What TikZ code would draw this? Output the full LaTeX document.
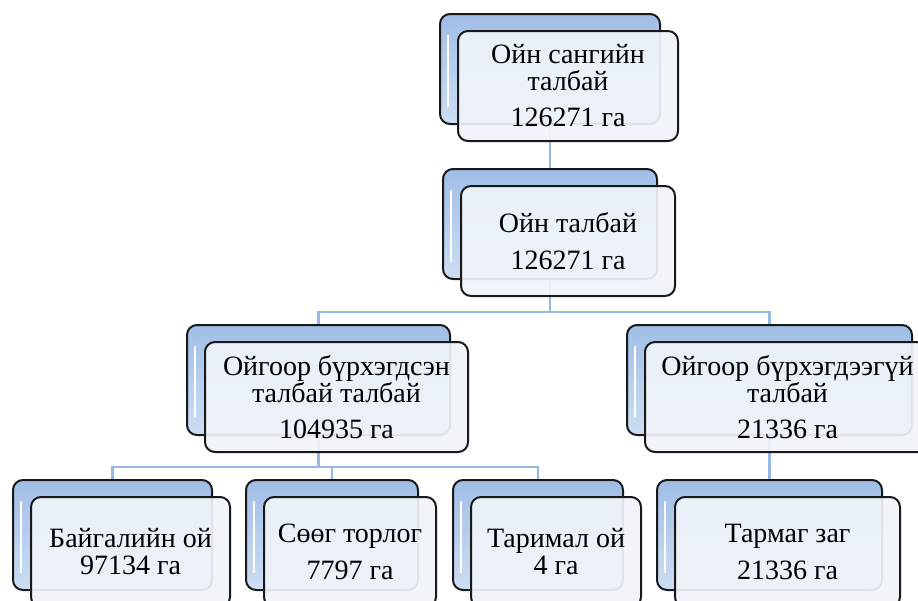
\documentclass[tikz,border=0pt]{standalone}
\usepackage{fontspec}
\setmainfont{Liberation Serif}
\usepackage{tikz}
\usetikzlibrary{shapes, shadows, arrows}
\definecolor{backtop}{RGB}{160,190,230}
\definecolor{backbot}{RGB}{205,222,243}
\definecolor{frontfill}{RGB}{240,244,250}
\definecolor{conn}{RGB}{150,183,226}
\tikzstyle{back}=[draw=black!90, line width=2pt, rounded corners=10pt, top color=backtop, bottom color=backbot, minimum height=110pt,
	path picture={\draw[white, line width=2.4pt, line cap=round, rounded corners=0pt]
		([xshift=8pt,yshift=-22pt]path picture bounding box.north west) -- ([xshift=8pt,yshift=18pt]path picture bounding box.south west);}]
\tikzstyle{front}=[draw=black!90, line width=2pt, rounded corners=10pt, fill=frontfill, fill opacity=0.92, text opacity=1, minimum height=110pt,
	align=center, inner sep=2pt, font=\fontsize{28}{27}\selectfont]
\tikzstyle{link}=[draw=conn, line width=2.6pt]

\begin{document}
\begin{tikzpicture}[x=1pt, y=-1pt]
		\clip (0,0) rectangle (918,600);
		% back boxes
		\node[back, minimum width=220pt] (b1) at (550,69) {};
		\node[back, minimum width=214pt] (b2) at (550,224) {};
		\node[back, minimum width=263pt] (b3l) at (318.5,380) {};
		\node[back, minimum width=285pt] (b3r) at (769.5,380) {};
		\node[back, minimum width=199pt] (b4a) at (112.5,535) {};
		\node[back, minimum width=172pt] (b4b) at (332,535) {};
		\node[back, minimum width=170pt] (b4c) at (538,535) {};
		\node[back, minimum width=225pt] (b4d) at (769.5,535) {};
		%---------------------
		\draw[link] (b1.south) -- (b2.north);
		\draw[link] (b2.south) -- ++(0,32) coordinate (j2);
		\draw[link] (j2) -| (b3l.north);
		\draw[link] (j2) -| (b3r.north);
		\draw[link] (b3l.south) -- ++(0,31) coordinate (j3);
		\draw[link] (j3) -| (b4a.north);
		\draw[link] (j3) -| (b4b.north);
		\draw[link] (j3) -| (b4c.north);
		\draw[link] (b3r.south) -- (b4d.north);
		%---------------------
		\node[front, minimum width=220pt, xshift=18pt, yshift=-17pt] (f1) at (b1) {Ойн сангийн\\талбай\\[9pt]126271 га};
		\node[front, minimum width=214pt, xshift=18pt, yshift=-17pt] (f2) at (b2) {Ойн талбай\\[10pt]126271 га};
		\node[front, minimum width=263pt, xshift=18pt, yshift=-17pt] (f3l) at (b3l) {Ойгоор бүрхэгдсэн\\талбай талбай\\[9pt]104935 га};
		\node[front, minimum width=285pt, xshift=18pt, yshift=-17pt] (f3r) at (b3r) {Ойгоор бүрхэгдээгүй\\талбай\\[9pt]21336 га};
		\node[front, minimum width=199pt, xshift=18pt, yshift=-17pt] (f4a) at (b4a) {Байгалийн ой\\97134 га};
		\node[front, minimum width=172pt, xshift=18pt, yshift=-17pt] (f4b) at (b4b) {Сөөг торлог\\[10pt]7797 га};
		\node[front, minimum width=170pt, xshift=18pt, yshift=-17pt] (f4c) at (b4c) {Таримал ой\\4 га};
		\node[front, minimum width=225pt, xshift=18pt, yshift=-17pt] (f4d) at (b4d) {Тармаг заг\\[10pt]21336 га};
	\end{tikzpicture}
\end{document}
